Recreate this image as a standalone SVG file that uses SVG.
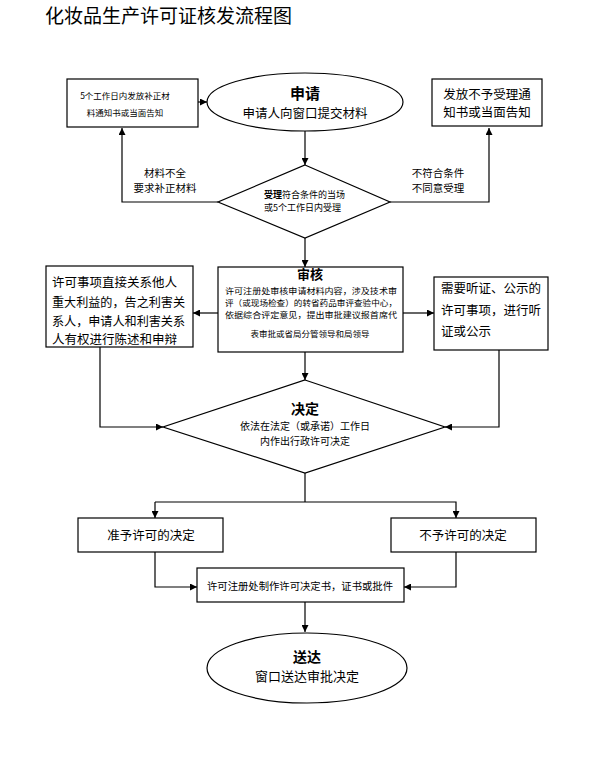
<svg xmlns="http://www.w3.org/2000/svg" width="608" height="769" viewBox="0 0 608 769">
<style>
  text { font-family: "Noto Sans CJK SC", "Liberation Sans", sans-serif; fill: #000; }
  .box { fill: #fff; stroke: #000; stroke-width: 1.2; }
  .ln { fill: none; stroke: #000; stroke-width: 1.2; }
  .c { text-anchor: middle; }
  .t14 { font-size: 12.5px; }
  .b { font-weight: bold; }
  .lbl { font-size: 10.5px; text-anchor: middle; }
</style>
<defs>
  <marker id="ah" viewBox="0 0 10 10" refX="10" refY="5" markerWidth="7" markerHeight="7" markerUnits="userSpaceOnUse" orient="auto">
    <path d="M0,0 L10,5 L0,10 z" fill="#000"/>
  </marker>
</defs>
<rect width="608" height="769" fill="#fff"/>
<text x="45" y="23" font-size="19">化妆品生产许可证核发流程图</text>

<g id="connectors">
  <line class="ln" x1="198" y1="102" x2="207" y2="102" marker-end="url(#ah)"/>
  <line class="ln" x1="305" y1="131" x2="305" y2="165" marker-end="url(#ah)"/>
  <polyline class="ln" points="218,202 122,202 122,128" marker-end="url(#ah)"/>
  <polyline class="ln" points="390,202 489,202 489,128" marker-end="url(#ah)"/>
  <line class="ln" x1="305" y1="238" x2="305" y2="267" marker-end="url(#ah)"/>
  <line class="ln" x1="218" y1="313" x2="193" y2="313" marker-end="url(#ah)"/>
  <line class="ln" x1="403" y1="313" x2="434" y2="313" marker-end="url(#ah)"/>
  <line class="ln" x1="305" y1="352" x2="305" y2="380" marker-end="url(#ah)"/>
  <polyline class="ln" points="100,347 100,427 163,427" marker-end="url(#ah)"/>
  <polyline class="ln" points="499,350 499,427 445,427" marker-end="url(#ah)"/>
  <line class="ln" x1="305" y1="473" x2="305" y2="502"/>
  <polyline class="ln" points="155,502 456,502 456,518" marker-end="url(#ah)"/>
  <line class="ln" x1="155" y1="502" x2="155" y2="518" marker-end="url(#ah)"/>
  <polyline class="ln" points="155,552 155,587 197,587" marker-end="url(#ah)"/>
  <polyline class="ln" points="456,552 456,587 404,587" marker-end="url(#ah)"/>
  <line class="ln" x1="305" y1="602" x2="305" y2="632" marker-end="url(#ah)"/>
  <text x="165" y="177" class="lbl">材料不全</text>
  <text x="165" y="192" class="lbl">要求补正材料</text>
  <text x="438" y="177" class="lbl">不符合条件</text>
  <text x="438" y="192" class="lbl">不同意受理</text>
</g>

<g id="n_notice_fix">
  <rect class="box" x="67" y="79" width="131" height="48"/>
  <text x="125" y="99" font-size="8.5" class="c">5个工作日内发放补正材</text>
  <text x="125" y="116" font-size="8.5" class="c">料通知书或当面告知</text>
</g>

<g id="n_apply">
  <ellipse class="box" cx="305" cy="102" rx="98" ry="29"/>
  <text x="305" y="99" font-size="15" class="c b">申请</text>
  <text x="305" y="118" class="t14 c">申请人向窗口提交材料</text>
</g>

<g id="n_reject_notice">
  <rect class="box" x="432" y="79" width="110" height="47"/>
  <text x="487" y="99" class="t14 c">发放不予受理通</text>
  <text x="487" y="117" class="t14 c">知书或当面告知</text>
</g>

<g id="n_accept">
  <polygon class="box" points="305,165 390,202 305,238 218,202"/>
  <text x="264" y="198" font-size="9"><tspan font-weight="bold">受理</tspan>符合条件的当场</text>
  <text x="264" y="211" font-size="9">或5个工作日内受理</text>
</g>

<g id="n_review">
  <rect class="box" x="218" y="267" width="185" height="85"/>
  <text x="310" y="279" font-size="13" class="c b">审核</text>
  <text x="225" y="294" font-size="8.5" textLength="172" lengthAdjust="spacingAndGlyphs">许可注册处审核申请材料内容，涉及技术审</text>
  <text x="225" y="306" font-size="8.5" textLength="172" lengthAdjust="spacingAndGlyphs">评（或现场检查）的转省药品审评查验中心，</text>
  <text x="225" y="318" font-size="8.5" textLength="172" lengthAdjust="spacingAndGlyphs">依据综合评定意见，提出审批建议报首席代</text>
  <text x="310" y="337" font-size="8.5" class="c">表审批或省局分管领导和局领导</text>
</g>

<g id="n_interest">
  <rect class="box" x="46" y="266" width="147" height="81"/>
  <text x="52" y="287" class="t14">许可事项直接关系他人</text>
  <text x="52" y="307" class="t14" textLength="133" lengthAdjust="spacingAndGlyphs">重大利益的，告之利害关</text>
  <text x="52" y="326" class="t14" textLength="133" lengthAdjust="spacingAndGlyphs">系人，申请人和利害关系</text>
  <text x="52" y="344" class="t14">人有权进行陈述和申辩</text>
</g>

<g id="n_hearing">
  <rect class="box" x="434" y="277" width="114" height="73"/>
  <text x="441" y="293" class="t14">需要听证、公示的</text>
  <text x="441" y="315" class="t14">许可事项，进行听</text>
  <text x="441" y="336" class="t14">证或公示</text>
</g>

<g id="n_decide">
  <polygon class="box" points="305,380 445,427 305,473 163,427"/>
  <text x="305" y="414" font-size="14" class="c b">决定</text>
  <text x="305" y="430" font-size="10" class="c">依法在法定（或承诺）工作日</text>
  <text x="305" y="445" font-size="10" class="c">内作出行政许可决定</text>
</g>

<g id="n_grant">
  <rect class="box" x="78" y="518" width="145" height="34"/>
  <text x="151" y="540" class="t14 c">准予许可的决定</text>
</g>

<g id="n_deny">
  <rect class="box" x="391" y="518" width="145" height="34"/>
  <text x="463" y="540" class="t14 c">不予许可的决定</text>
</g>

<g id="n_issue">
  <rect class="box" x="197" y="568" width="207" height="34"/>
  <text x="207" y="590" font-size="10" textLength="186" lengthAdjust="spacingAndGlyphs">许可注册处制作许可决定书，证书或批件</text>
</g>

<g id="n_deliver">
  <ellipse class="box" cx="307" cy="668" rx="100" ry="35"/>
  <text x="307" y="662" font-size="14" class="c b">送达</text>
  <text x="307" y="681" font-size="13" class="c">窗口送达审批决定</text>
</g>
</svg>
